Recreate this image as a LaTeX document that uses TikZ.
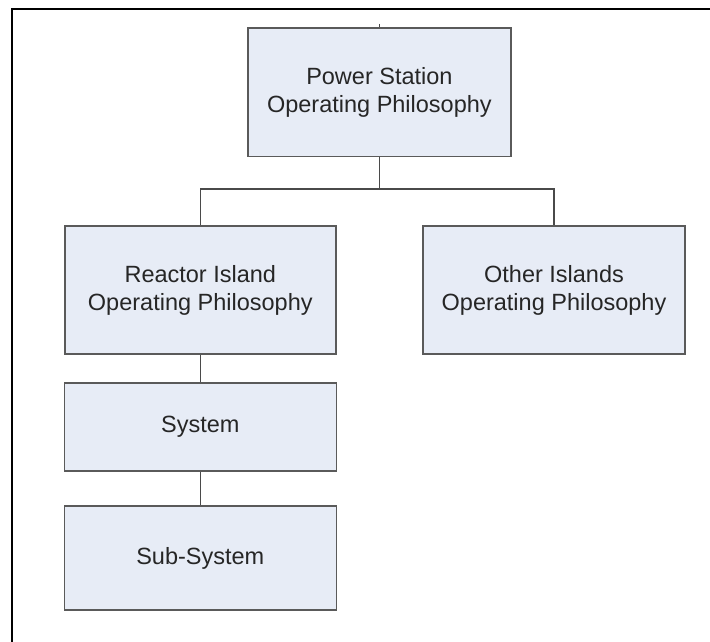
\documentclass[tikz,border=0pt]{standalone}
\usepackage{fontspec}
\setmainfont{Liberation Sans}
\definecolor{boxfill}{HTML}{E7ECF6}
\definecolor{boxline}{HTML}{5A5A5A}
\definecolor{wire}{HTML}{4A4A4A}
\begin{document}
\begin{tikzpicture}[x=1pt,y=-1pt,
  box/.style={draw=boxline,fill=boxfill,line width=1.4pt,align=center,inner sep=0pt,
    font=\fontsize{23.5}{28}\selectfont,text=black!85},
  conn/.style={draw=wire,line width=1.3pt},
  frame/.style={draw=black,line width=2pt}]
\useasboundingbox (0,0) rectangle (710,642);
% partial frame (top and left edges)
\coordinate (f1) at (710,9);
\coordinate (f2) at (12,9);
\coordinate (f3) at (12,642);
\draw[frame] (f1) -- (f2) -- (f3);
% nodes
\node[box,minimum width=263pt,minimum height=128pt] (ps) at (379.4,92.2) {Power Station\\Operating Philosophy};
\node[box,minimum width=271pt,minimum height=128pt] (ri) at (200.3,290) {Reactor Island\\Operating Philosophy};
\node[box,minimum width=262pt,minimum height=128pt] (oi) at (554,290) {Other Islands\\Operating Philosophy};
\node[box,minimum width=272pt,minimum height=88pt] (sys) at (200.3,427) {System};
\node[box,minimum width=272pt,minimum height=104pt] (sub) at (200.3,558) {Sub-System};
% connectors
\coordinate (stub) at (379.4,24);
\coordinate (bus) at (379.4,189);
\draw[conn] (stub) -- (ps.north);
\draw[conn] (ps.south) -- (bus) -| (ri.north);
\draw[conn] (bus) -| (oi.north);
\draw[conn] (ri.south) -- (sys.north);
\draw[conn] (sys.south) -- (sub.north);
\end{tikzpicture}
\end{document}
